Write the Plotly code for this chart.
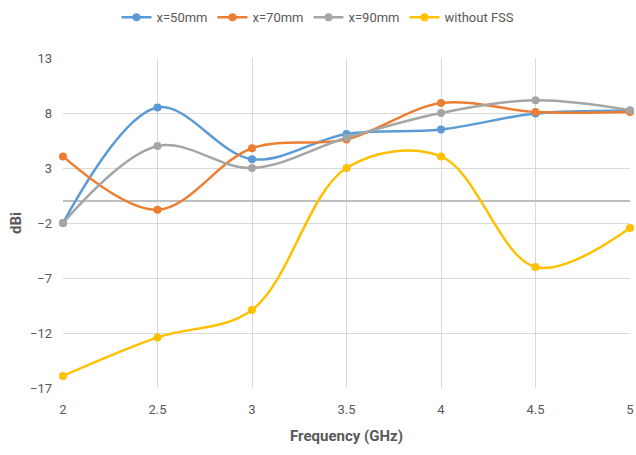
import plotly.graph_objects as go

freq = [2, 2.5, 3, 3.5, 4, 4.5, 5]
x50 = [-2.0, 8.5, 3.8, 6.1, 6.5, 7.95, 8.2]
x70 = [4.05, -0.8, 4.8, 5.6, 8.9, 8.1, 8.1]
x90 = [-2.0, 5.0, 3.0, 5.75, 8.0, 9.15, 8.25]
no_fss = [-15.9, -12.4, -9.9, 3.0, 4.05, -6.0, -2.45]
tick_x = [2, 2.5, 3, 3.5, 4, 4.5, 5]
tick_x_text = ["2", "2.5", "3", "3.5", "4", "4.5", "5"]

series = [
    ("x=50mm", x50, "#5B9BD5"),
    ("x=70mm", x70, "#ED7D31"),
    ("x=90mm", x90, "#A5A5A5"),
    ("without FSS", no_fss, "#FFC000"),
]

font_fam = "Roboto, sans-serif"

fig = go.Figure()
for name, vals, col in series:
    fig.add_trace(go.Scatter(
        x=freq, y=vals, name=name, mode="lines+markers",
        line=dict(color=col, width=2.5, shape="spline", smoothing=1.0),
        marker=dict(color=col, size=8),
        cliponaxis=False,
    ))

fig.update_layout(
    width=636, height=455,
    margin=dict(l=63, r=6, t=58, b=67),
    paper_bgcolor="white", plot_bgcolor="white",
    font=dict(family=font_fam, color="#595959", size=13),
    legend=dict(orientation="h", x=0.5, xref="container", xanchor="center",
                y=0.995, yref="container", yanchor="top",
                font=dict(size=13, color="#595959")),
    xaxis=dict(range=[2, 5], tickvals=tick_x, ticktext=tick_x_text,
               showgrid=True, gridcolor="#D9D9D9", gridwidth=1,
               zeroline=False, showline=False, ticks="", automargin=False,
               ticklabelstandoff=12, ticklabeloverflow="allow",
               title=dict(text="<b>Frequency (GHz)</b>", font=dict(size=15, color="#595959"), standoff=14)),
    yaxis=dict(range=[-17, 13], tick0=-17, dtick=5,
               showgrid=True, gridcolor="#D9D9D9", gridwidth=1,
               zeroline=True, zerolinecolor="#BFBFBF", zerolinewidth=1.5,
               showline=False, ticks="", ticklabelstandoff=10,
               title=dict(text="<b>dBi</b>", font=dict(size=15, color="#595959"), standoff=4)),
)

fig.write_html("out.html")
